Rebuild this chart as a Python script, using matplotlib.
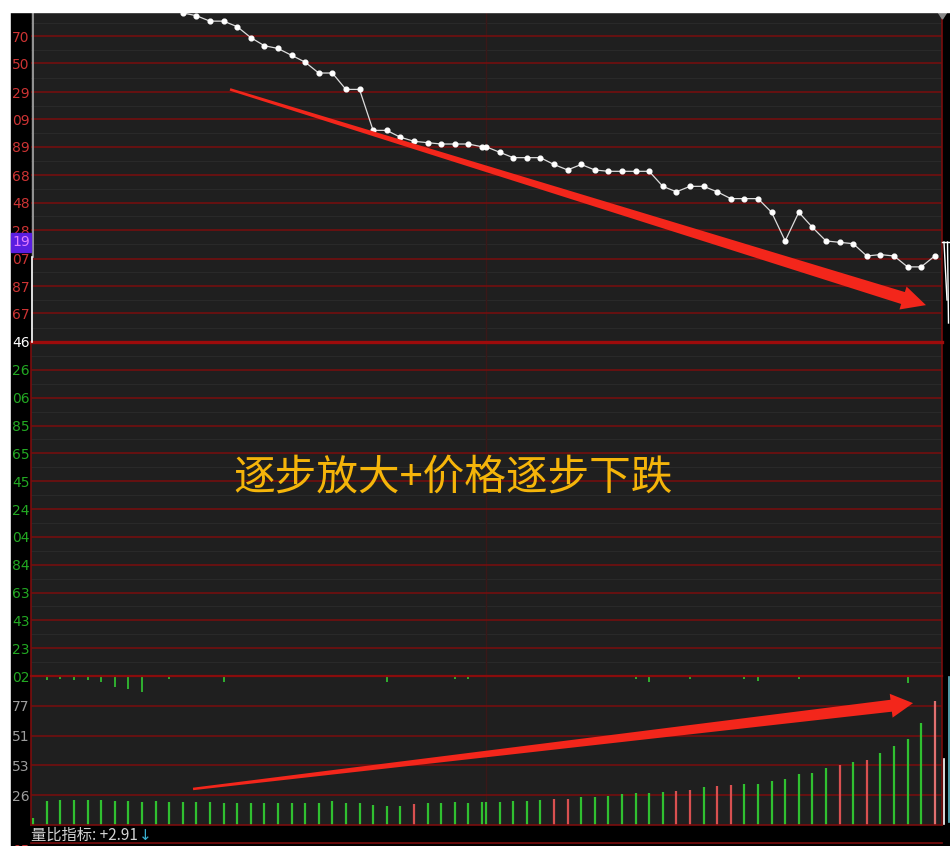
import numpy as np
import matplotlib.pyplot as plt
from matplotlib.patches import Polygon, Rectangle
from matplotlib.lines import Line2D

# ---- data ----
# price (last 2 digits shown on the axis), morning slots 10..33, afternoon slots 0..33
price_ticks = [8.46, 8.67, 8.87, 9.07, 9.28, 9.48, 9.68, 9.89, 10.09, 10.29, 10.50, 10.70]
price_am = [10.94, 10.87, 10.85, 10.81, 10.81, 10.77, 10.69, 10.63, 10.61, 10.56, 10.51, 10.43,
            10.43, 10.31, 10.31, 10.01, 10.01, 9.96, 9.93, 9.92, 9.91, 9.91, 9.91, 9.89]
price_pm = [9.89, 9.85, 9.81, 9.81, 9.81, 9.76, 9.72, 9.76, 9.72, 9.71, 9.71, 9.71, 9.71, 9.60,
            9.56, 9.60, 9.60, 9.56, 9.51, 9.51, 9.51, 9.41, 9.20, 9.41, 9.30, 9.20, 9.19, 9.18,
            9.09, 9.10, 9.09, 9.01, 9.01, 9.09]

mid_labels = ["02", "23", "43", "63", "84", "04", "24", "45", "65", "85", "06", "26"]
vol_ticks = [100, 200, 300, 400]
vol_labels = ["26", "53", "51", "77"]

# volume bars, morning slots 0..33 and afternoon slots 0..33
vol_am = [23, 81, 84, 84, 83, 84, 81, 81, 77, 80, 77, 77, 77, 77, 74, 74, 74, 74, 74, 74, 74, 74,
          80, 74, 74, 67, 64, 64, 70, 74, 74, 77, 74, 77]
vol_pm = [77, 77, 80, 80, 84, 87, 87, 94, 94, 97, 104, 108, 108, 111, 114, 117, 128, 130, 134,
          137, 139, 146, 155, 170, 176, 192, 201, 211, 218, 242, 265, 288, 343, 416]
red_am = [28]
red_pm = [5, 6, 14, 15, 17, 18, 26, 28, 33]

# small bars hanging from the top of the volume panel: (slot, depth)
hang_am = [(1, 10), (2, 7), (3, 10), (4, 10), (5, 17), (6, 33), (7, 40), (8, 50), (10, 7),
           (14, 17), (26, 17), (31, 7), (32, 7)]
hang_pm = [(11, 7), (12, 17), (15, 7), (19, 7), (20, 13), (23, 7), (31, 20)]

title_txt = "逐步放大+价格逐步下跌"
bottom_txt = "量比指标: +2.91"

# ---- layout ----
W, H = 950, 846
BG = '#1f1f1f'
GRID = '#7a0d0d'
RED_T = '#cc3333'
GREEN_T = '#22a822'
GREY_T = '#9c9c9c'
PM0 = 33.3          # afternoon session starts right after the midday break
XL = ((31 - 33.1) / 13.6, (942 - 33.1) / 13.6)


def fr(left, top, right, bottom):
    return [left / W, 1 - bottom / H, (right - left) / W, (bottom - top) / H]


def fy(y):
    return 1 - y / H


fig = plt.figure(figsize=(W / 100, H / 100), dpi=100)
fig.patch.set_facecolor('white')

fig.add_artist(Rectangle((11 / W, 0), 20 / W, fy(12), transform=fig.transFigure,
                         color='black', zorder=-1))
fig.add_artist(Rectangle((942 / W, 0), 8 / W, fy(12), transform=fig.transFigure,
                         color='black', zorder=-1))
fig.add_artist(Rectangle((31 / W, 0), 911 / W, fy(825), transform=fig.transFigure,
                         color='black', zorder=-1))

ax_p = fig.add_axes(fr(31, 12, 942, 342))
ax_m = fig.add_axes(fr(31, 342, 942, 676))
ax_v = fig.add_axes(fr(31, 676, 942, 825))

for ax in (ax_p, ax_m, ax_v):
    ax.set_facecolor(BG)
    ax.set_xlim(*XL)
    ax.set_xticks([])
    ax.tick_params(axis='y', length=0, pad=1, labelsize=10)
    for s in ax.spines.values():
        s.set_color(GRID)
        s.set_linewidth(1.2)
    ax.axvline(PM0, color='#3a1818', lw=1, zorder=0.5)

# price panel
ax_p.spines['top'].set_visible(False)
ax_p.spines['left'].set_visible(False)
ax_p.set_ylim(8.4599, 8.46 + 330 * 0.007324)
ax_p.set_yticks(price_ticks)
ax_p.set_yticklabels([f"{t:.2f}"[-2:] for t in price_ticks])
for i, lab in enumerate(ax_p.get_yticklabels()):
    lab.set_color('white' if i == 0 else RED_T)
for a, b in zip(price_ticks[:-1], price_ticks[1:]):
    ax_p.axhline((a + b) / 2, color='#292929', lw=0.8, zorder=0.4)
for t in price_ticks[1:]:
    ax_p.axhline(t, color=GRID, lw=1.1, zorder=0.6)
ax_p.axhline(price_ticks[-1] + 0.1, color='#292929', lw=0.8, zorder=0.4)

x_price = np.concatenate([np.arange(10, 34), PM0 + np.arange(len(price_pm))])
y_price = np.array(price_am + price_pm)
ax_p.plot(x_price, y_price, color='#dcdcdc', lw=0.9, marker='o', ms=3.4,
          mfc='white', mec='white', zorder=3)

# middle panel (empty, only the scale)
ax_m.set_ylim(0, 12)
ax_m.set_yticks(range(len(mid_labels)))
ax_m.set_yticklabels(mid_labels)
for lab in ax_m.get_yticklabels():
    lab.set_color(GREEN_T)
for k in range(12):
    ax_m.axhline(k + 0.5, color='#292929', lw=0.8, zorder=0.4)
for k in range(1, 12):
    ax_m.axhline(k, color=GRID, lw=1.1, zorder=0.6)
ax_m.text(0.4635, 0.593, title_txt, transform=ax_m.transAxes, ha='center', va='center',
          fontsize=30, color='#f5b50a', family=['Noto Sans CJK SC', 'DejaVu Sans'])

# volume panel
ax_v.set_ylim(0, 500)
ax_v.set_yticks(vol_ticks)
ax_v.set_yticklabels(vol_labels)
for lab in ax_v.get_yticklabels():
    lab.set_color(GREY_T)
for t in vol_ticks:
    ax_v.axhline(t, color=GRID, lw=1.1, zorder=0.6)

x_vol = np.concatenate([np.arange(len(vol_am)), PM0 + np.arange(len(vol_pm))])
y_vol = np.array(vol_am + vol_pm)
red = [i in red_am for i in range(len(vol_am))] + [i in red_pm for i in range(len(vol_pm))]
cols = ['#d85050' if r else '#30c030' for r in red]
cols[-1] = '#e07070'
ax_v.vlines(x_vol, 0, y_vol, colors=cols, lw=1.6, zorder=2)

hx = [s for s, d in hang_am] + [PM0 + s for s, d in hang_pm]
hd = np.array([d for s, d in hang_am] + [d for s, d in hang_pm])
ax_v.vlines(hx, 496 - hd, 496, colors='#30b030', lw=1.4, zorder=2)


# tapered red arrows
def taper_arrow(ax, p0, p1, w0, w1, head_len, head_w, color):
    a = ax.transData.transform(p0)
    b = ax.transData.transform(p1)
    u = (b - a) / np.hypot(*(b - a))
    n = np.array([-u[1], u[0]])
    base = b - u * head_len
    pts = [a + n * w0 / 2, base + n * w1 / 2, base + n * head_w / 2, b,
           base - n * head_w / 2, base - n * w1 / 2, a - n * w0 / 2]
    pts = fig.transFigure.inverted().transform(np.array(pts))
    fig.add_artist(Polygon(pts, closed=True, transform=fig.transFigure, color=color,
                           lw=0, zorder=4))


taper_arrow(ax_p, (14.48, 10.31), (65.65, 8.73), 2.5, 12.5, 24, 24, '#f3261b')
taper_arrow(ax_v, (11.76, 121), (64.7, 409), 2.5, 12, 22, 24, '#f3261b')

# separators and edge decorations
fig.add_artist(Line2D([31 / W, 942 / W], [fy(342)] * 2, color='#9e0b0b', lw=2.4, zorder=3))
fig.add_artist(Line2D([31 / W, 942 / W], [fy(676)] * 2, color='#8a0c0c', lw=1.6, zorder=3))
fig.add_artist(Line2D([31 / W, 942 / W], [fy(843)] * 2, color=GRID, lw=1.2, zorder=3))
fig.add_artist(Line2D([32.8 / W] * 2, [fy(12), fy(257)], color='#a8a8a8', lw=1.2, zorder=3))
fig.add_artist(Line2D([31.8 / W] * 2, [fy(257), fy(342)], color='white', lw=1.2, zorder=3))
fig.add_artist(Line2D([942 / W, 949 / W], [fy(242)] * 2, color='white', lw=1, zorder=3))
fig.add_artist(Line2D([944 / W, 947 / W], [fy(242), fy(300)], color='white', lw=1, zorder=3))
fig.add_artist(Line2D([947.5 / W, 948.5 / W], [fy(242), fy(323)], color='white', lw=1, zorder=3))
fig.add_artist(Line2D([949 / W] * 2, [fy(677), fy(822)], color='#5fb8c8', lw=1.2, zorder=3))
fig.add_artist(Line2D([943.5 / W] * 2, [fy(759), fy(824)], color='white', lw=1.2, zorder=3))
fig.add_artist(Polygon([[938 / W, fy(12)], [947 / W, fy(12)], [942.5 / W, fy(19)]],
                       closed=True, transform=fig.transFigure, color='#8a8a8a', zorder=3))

# cut-off labels at top and bottom of the scale
fig.text(30 / W, fy(8.4), "90", ha='right', va='center', fontsize=10, color=RED_T)
fig.text(30 / W, fy(851), "05", ha='right', va='center', fontsize=10, color=RED_T)
fig.add_artist(Rectangle((0, fy(12)), 1, 12 / H, transform=fig.transFigure,
                         color='white', zorder=10))

# current price marker on the scale
fig.add_artist(Rectangle((11 / W, fy(252)), 20 / W, 19 / H, transform=fig.transFigure,
                         color='#5a1ee0', zorder=5))
fig.text(30 / W, fy(242.5), "19", ha='right', va='center', fontsize=10, color='#e27cff',
         zorder=6)

# bottom indicator readout
txt = fig.text(31 / W, fy(835), bottom_txt, ha='left', va='center', fontsize=11,
               color='#d2d2d2', family=['Noto Sans CJK SC', 'DejaVu Sans'], zorder=6)
plt.annotate("↓", xy=(1, 0.5), xycoords=txt, xytext=(1, 0), textcoords='offset points',
             ha='left', va='center', fontsize=11, color='#38b0d0',
             family=['DejaVu Sans'], annotation_clip=False)

fig.savefig("out.png", dpi=100, facecolor=fig.get_facecolor())
